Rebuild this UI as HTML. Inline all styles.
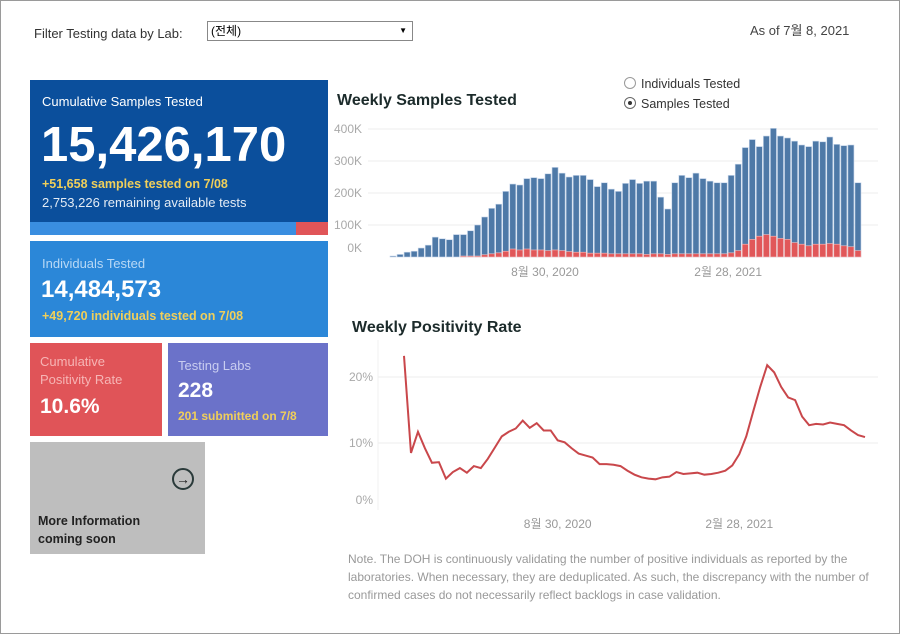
<!DOCTYPE html>
<html><head><meta charset="utf-8"><style>
body{margin:0;width:900px;height:634px;overflow:hidden;background:#fff;font-family:"Liberation Sans","Noto Sans CJK KR",sans-serif;}
#frame{position:absolute;left:0;top:0;width:898px;height:632px;border:1px solid #9a9a9a;}
.abs{position:absolute;}
.card{position:absolute;color:#fff;}
</style></head><body>
<div id="frame"></div>
<div class="abs" style="left:34px;top:26px;font-size:13px;color:#333">Filter Testing data by Lab:</div>
<div class="abs" style="left:207px;top:21px;width:206px;height:20px;border:1px solid #888;font-size:12px;line-height:18px;padding-left:3px;box-sizing:border-box">(전체)<span style="position:absolute;right:5px;top:0;font-size:8px">▼</span></div>
<div class="abs" style="left:750px;top:20px;font-size:13px;color:#444">As of 7월 8, 2021</div>

<div class="card" style="left:30px;top:80px;width:298px;height:142px;background:#0b4f9c">
<div class="abs" style="left:12px;top:14px;font-size:13px">Cumulative Samples Tested</div>
<div class="abs" style="left:11px;top:37px;font-size:49px;font-weight:bold">15,426,170</div>
<div class="abs" style="left:12px;top:97px;font-size:12.5px;color:#f0cf5a;font-weight:bold">+51,658 samples tested on 7/08</div>
<div class="abs" style="left:12px;top:115px;font-size:13px;color:#e4ecf5">2,753,226 remaining available tests</div>
</div>
<div class="abs" style="left:30px;top:222px;width:266px;height:13px;background:#3a8ee0"></div>
<div class="abs" style="left:296px;top:222px;width:32px;height:13px;background:#e05558"></div>

<div class="card" style="left:30px;top:241px;width:298px;height:96px;background:#2b87d8">
<div class="abs" style="left:12px;top:15px;font-size:13px;color:#b8d8f5">Individuals Tested</div>
<div class="abs" style="left:11px;top:35px;font-size:24px;font-weight:bold">14,484,573</div>
<div class="abs" style="left:12px;top:68px;font-size:12.5px;color:#f0cf5a;font-weight:bold">+49,720  individuals  tested on 7/08</div>
</div>

<div class="card" style="left:30px;top:343px;width:132px;height:93px;background:#e05458">
<div class="abs" style="left:10px;top:10px;font-size:13px;color:#f6b5b5;line-height:18px">Cumulative<br>Positivity Rate</div>
<div class="abs" style="left:10px;top:52px;font-size:21px;font-weight:bold">10.6%</div>
</div>
<div class="card" style="left:168px;top:343px;width:160px;height:93px;background:#6b72c9">
<div class="abs" style="left:10px;top:15px;font-size:13px;color:#c9cdf0">Testing Labs</div>
<div class="abs" style="left:10px;top:36px;font-size:21px;font-weight:bold">228</div>
<div class="abs" style="left:10px;top:66px;font-size:12px;color:#f0cf5a;font-weight:bold">201 submitted on 7/8</div>
</div>
<div class="card" style="left:30px;top:442px;width:175px;height:112px;background:#bebebe;color:#222">
<div class="abs" style="left:142px;top:26px;width:18px;height:18px;border:2px solid #2a3a3a;border-radius:50%;font-size:14px;line-height:18px;text-align:center;font-weight:bold">→</div>
<div class="abs" style="left:8px;top:70px;font-size:12.5px;font-weight:bold;line-height:18px">More Information<br>coming soon</div>
</div>

<div class="abs" style="left:337px;top:92px;font-size:16px;font-weight:bold;color:#1c2b2b">Weekly Samples Tested</div>
<div class="abs" style="left:624px;top:77px;font-size:12.5px;color:#333"><span style="display:inline-block;width:10px;height:10px;border:1px solid #999;border-radius:50%;vertical-align:-1px;margin-right:5px"></span>Individuals Tested</div>
<div class="abs" style="left:624px;top:97px;font-size:12.5px;color:#333"><span style="display:inline-block;width:10px;height:10px;border:1px solid #666;border-radius:50%;vertical-align:-1px;margin-right:5px;position:relative"><span style="position:absolute;left:3px;top:3px;width:4px;height:4px;border-radius:50%;background:#333"></span></span>Samples Tested</div>
<svg class="abs" id="bars" style="left:0;top:0" width="900" height="300"></svg>

<div class="abs" style="left:352px;top:319px;font-size:16px;font-weight:bold;color:#1c2b2b">Weekly Positivity Rate</div>
<svg class="abs" id="line" style="left:0;top:300px" width="900" height="240"></svg>

<div class="abs" style="left:348px;top:550px;width:530px;font-size:12px;line-height:18px;color:#999;white-space:nowrap;overflow:hidden">Note. The DOH is continuously validating the number of positive individuals as reported by the<br>laboratories. When necessary, they are deduplicated. As such, the discrepancy with the number of<br>confirmed cases do not necessarily reflect backlogs in case validation.</div>

<script>
const totals=[3,8,15,18,28,37,62,57,54,70,70,82,100,125,152,165,205,228,225,245,248,245,260,280,262,250,255,255,242,220,232,212,205,230,242,230,237,237,187,150,232,255,248,262,245,237,232,232,255,290,342,367,345,378,402,378,372,362,350,345,362,360,375,352,348,350,232];
const positives=[0,0,0,0,0,0,0,0,0,0,3,3,3,7,10,13,18,25,22,25,22,22,20,22,20,17,15,15,12,12,12,10,10,10,10,10,8,10,10,8,10,10,10,10,10,10,10,10,13,20,40,55,65,70,65,58,55,45,40,35,40,40,42,40,35,32,20];
const barTicks=[0,100,200,300,400];
const barTickLabels=["0K","100K","200K","300K","400K"];
const rates=[23.2,8.5,11.7,9.2,7.0,7.1,4.6,5.6,6.2,5.5,6.5,6.2,7.6,9.3,11.0,11.7,12.2,13.4,12.3,13.0,11.9,11.9,10.4,10.1,9.2,8.4,8.1,7.8,6.8,6.8,6.7,6.5,5.8,5.2,4.8,4.6,4.5,4.8,4.9,5.6,5.3,5.4,5.5,5.2,5.3,5.5,5.8,6.6,8.3,11.0,14.8,18.5,21.8,20.7,18.5,16.9,16.5,14.0,12.7,12.9,12.8,13.1,12.9,12.7,11.9,11.2,10.9];
const rateTicks=[0,10,20];
const rateTickLabels=["0%","10%","20%"];
const dateLabels=["8월 30, 2020","2월 28, 2021"];
const dateIndex=[22,48];
const NS="http://www.w3.org/2000/svg";
function mk(svg,tag,attrs){const e=document.createElementNS(NS,tag);for(const k in attrs)e.setAttribute(k,attrs[k]);svg.appendChild(e);return e;}
const bs=document.getElementById('bars');
const bx0=390,bw=472/totals.length,by0=257,bk=0.32;
const bxs=i=>bx0+i*bw, bys=v=>by0-v*bk;
barTicks.forEach((t,i)=>{
  if(t>0){const g=mk(bs,'line',{x1:368,x2:878,y1:bys(t),y2:bys(t),stroke:'#eee'});}
  const y=t===0?bys(t)-5:bys(t)+4;
  const tx=mk(bs,'text',{x:362,y:y,'text-anchor':'end','font-size':12,fill:'#a9a9a9','font-family':'Liberation Sans'});tx.textContent=barTickLabels[i];
  
});
totals.forEach((v,i)=>{
  const r=mk(bs,'rect',{x:bxs(i),y:bys(v),width:bw-1,height:v*bk,fill:'#4e79a7',stroke:'#c5d5ea','stroke-width':0.6});
  
  if(positives[i]>0){const p=mk(bs,'rect',{x:bxs(i),y:bys(positives[i]),width:bw-1,height:positives[i]*bk,fill:'#e15759',stroke:'#f2c0c0','stroke-width':0.6});
  }
});
dateLabels.forEach((d,i)=>{const t=mk(bs,'text',{x:bxs(dateIndex[i]),y:276,'text-anchor':'middle','font-size':12,fill:'#999','font-family':'Liberation Sans, Noto Sans CJK KR, sans-serif'});t.textContent=d;
});
const ls=document.getElementById('line');
const lx0=404,ldx=(865-404)/(rates.length-1),ly0=209,lk=6.6;
const lxs=i=>lx0+i*ldx, lys=v=>ly0-v*lk;
mk(ls,'line',{x1:378,x2:378,y1:40,y2:210,stroke:'#f0f0f0'});
rateTicks.forEach((t,i)=>{
  if(t>0){const g=mk(ls,'line',{x1:378,x2:878,y1:lys(t),y2:lys(t),stroke:'#eee'});}
  const y=t===0?lys(t)-5:lys(t)+4;
  const tx=mk(ls,'text',{x:373,y:y,'text-anchor':'end','font-size':12,fill:'#a9a9a9','font-family':'Liberation Sans'});tx.textContent=rateTickLabels[i];
  
});
const pl=mk(ls,'polyline',{points:rates.map((v,i)=>lxs(i)+','+lys(v)).join(' '),fill:'none',stroke:'#c9474b','stroke-width':2});

dateLabels.forEach((d,i)=>{const t=mk(ls,'text',{x:lxs(dateIndex[i]),y:228,'text-anchor':'middle','font-size':12,fill:'#999','font-family':'Liberation Sans, Noto Sans CJK KR, sans-serif'});t.textContent=d;
});
</script>
</body></html>
